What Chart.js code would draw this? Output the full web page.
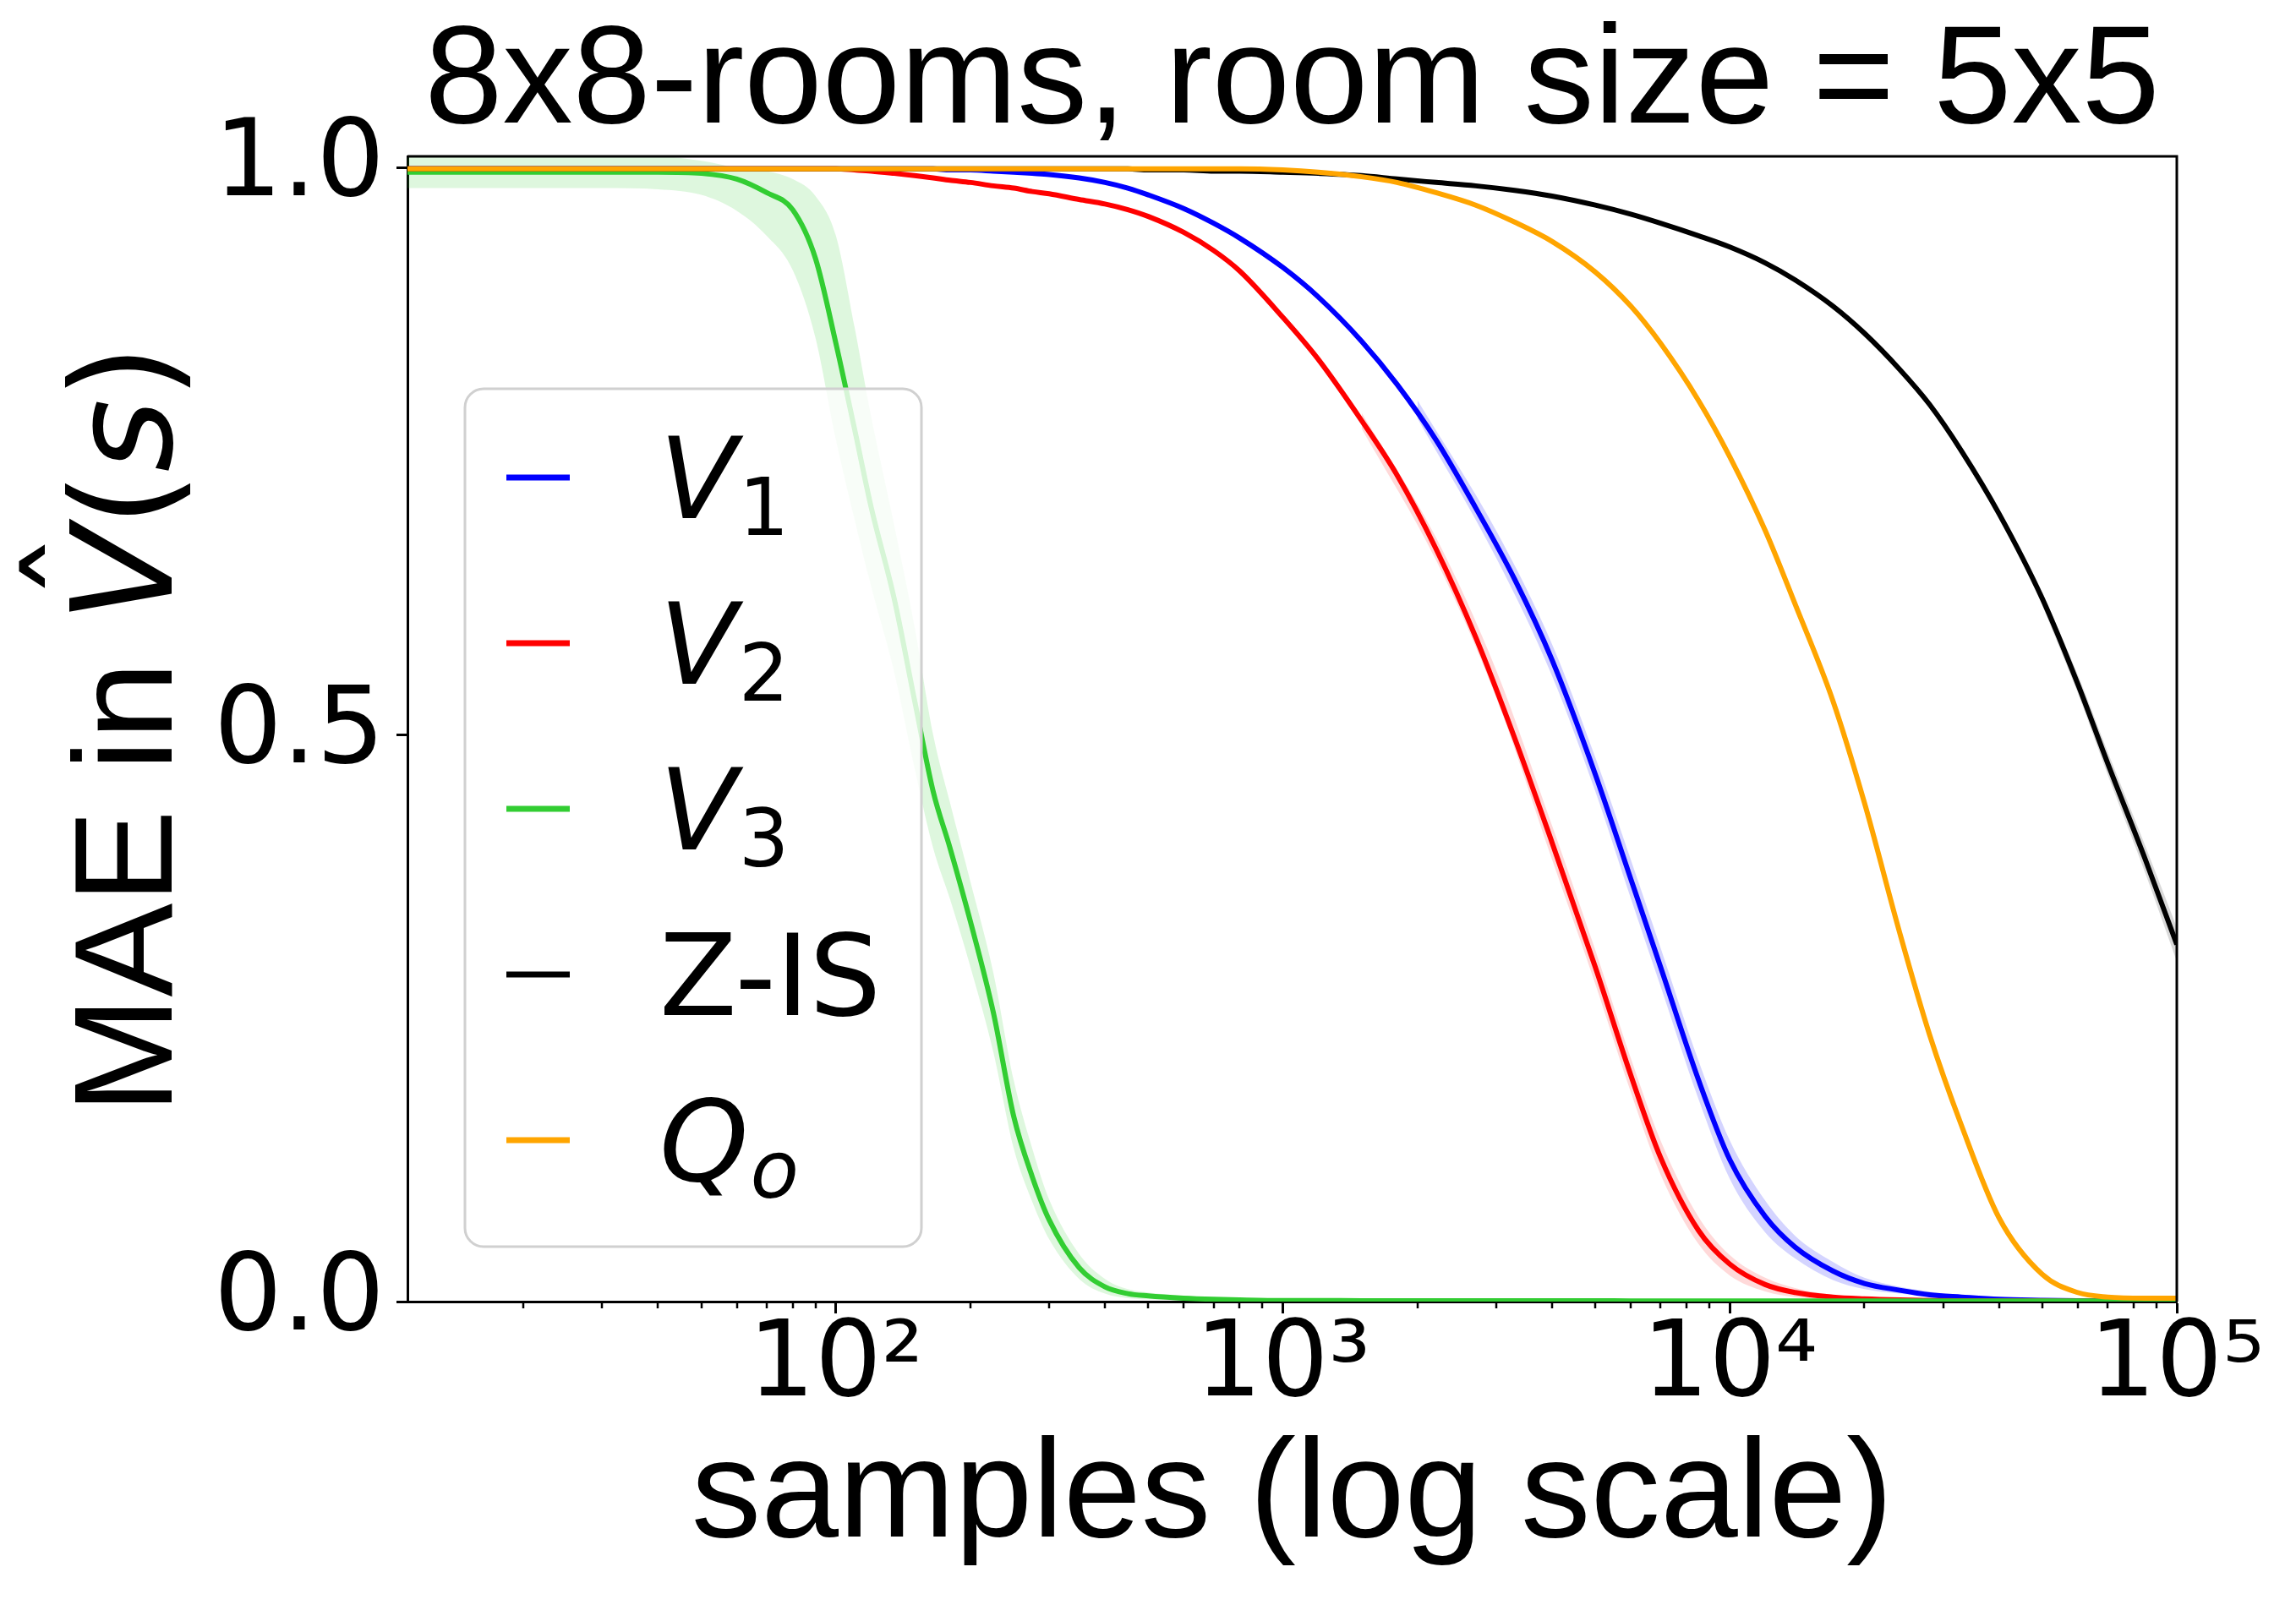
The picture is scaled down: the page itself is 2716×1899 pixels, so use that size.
<!DOCTYPE html>
<html>
<head>
<meta charset="utf-8">
<script src="https://cdn.jsdelivr.net/npm/chart.js@4.4.1/dist/chart.umd.min.js"></script>
<style>
  html, body { margin: 0; padding: 0; background: #fff; }
  #wrap { width: 2716px; height: 1899px; }
</style>
</head>
<body>
<div id="wrap"><canvas id="myChart"></canvas></div>
<script>
// sample counts (x) shared by all series
const samples = [11, 20, 30, 40, 50, 60, 70, 80, 90, 100,
  110, 120, 135, 150, 165, 180, 200, 225, 250, 275,
  300, 350, 400, 450, 500, 600, 700, 800, 1000, 1200,
  1500, 1800, 2200, 2700, 3300, 4000, 5000, 6000, 7000, 8500,
  10000, 12000, 14000, 17000, 20000, 24000, 28000, 33000, 40000, 50000,
  60000, 70000, 85000, 100000]

const v1 = [0.999, 0.999, 0.999, 0.999, 0.999, 0.999, 0.999, 0.999, 0.999, 0.999,
  0.999, 0.999, 0.999, 0.999, 0.999, 0.998, 0.998, 0.997, 0.996, 0.995,
  0.994, 0.991, 0.987, 0.982, 0.976, 0.964, 0.951, 0.938, 0.912, 0.886,
  0.847, 0.809, 0.760, 0.700, 0.637, 0.566, 0.465, 0.373, 0.295, 0.196,
  0.125, 0.075, 0.048, 0.027, 0.016, 0.010, 0.006, 0.004, 0.002, 0.0012,
  0.0008, 0.0006, 0.0005, 0.0004]

const v2 = [0.999, 0.999, 0.999, 0.999, 0.999, 0.999, 0.999, 0.999, 0.999, 0.999,
  0.998, 0.997, 0.995, 0.993, 0.991, 0.989, 0.987, 0.984, 0.982, 0.979,
  0.977, 0.972, 0.968, 0.963, 0.957, 0.943, 0.927, 0.909, 0.868, 0.831,
  0.777, 0.729, 0.664, 0.586, 0.497, 0.405, 0.295, 0.200, 0.127, 0.063,
  0.033, 0.015, 0.008, 0.004, 0.0025, 0.0015, 0.001, 0.0008, 0.0006, 0.0005,
  0.0004, 0.0004, 0.0003, 0.0003]

const v3 = [0.996, 0.996, 0.996, 0.996, 0.995, 0.990, 0.978, 0.963, 0.920, 0.845,
  0.770, 0.700, 0.620, 0.530, 0.450, 0.400, 0.335, 0.255, 0.163, 0.110,
  0.072, 0.030, 0.013, 0.007, 0.005, 0.003, 0.002, 0.0015, 0.001, 0.001,
  0.0008, 0.0008, 0.0008, 0.0008, 0.0008, 0.0008, 0.0008, 0.0006, 0.0006, 0.0006,
  0.0005, 0.0005, 0.0005, 0.0005, 0.0005, 0.0005, 0.0005, 0.0005, 0.0005, 0.0005,
  0.0005, 0.0005, 0.0005, 0.0005]

const zis = [0.999, 0.999, 0.999, 0.999, 0.999, 0.999, 0.999, 0.999, 0.999, 0.999,
  0.999, 0.999, 0.999, 0.999, 0.999, 0.999, 0.999, 0.999, 0.999, 0.999,
  0.999, 0.999, 0.999, 0.999, 0.998, 0.998, 0.997, 0.997, 0.996, 0.995,
  0.993, 0.990, 0.987, 0.984, 0.980, 0.975, 0.967, 0.959, 0.951, 0.940,
  0.930, 0.916, 0.901, 0.878, 0.854, 0.822, 0.791, 0.750, 0.695, 0.620,
  0.545, 0.475, 0.390, 0.315]

const qo = [0.999, 0.999, 0.999, 0.999, 0.999, 0.999, 0.999, 0.999, 0.999, 0.999,
  0.999, 0.999, 0.999, 0.999, 0.999, 0.999, 0.999, 0.999, 0.999, 0.999,
  0.999, 0.999, 0.999, 0.999, 0.999, 0.999, 0.999, 0.999, 0.998, 0.996,
  0.992, 0.987, 0.978, 0.967, 0.952, 0.935, 0.908, 0.878, 0.845, 0.795,
  0.745, 0.680, 0.615, 0.530, 0.440, 0.325, 0.235, 0.155, 0.074, 0.024,
  0.008, 0.004, 0.003, 0.003]

// shaded spread around V3
const v3Hi = [1.01, 1.01, 1.01, 1.01, 1.006, 1.0, 0.997, 0.99, 0.975, 0.94,
  0.86, 0.78, 0.685, 0.595, 0.50, 0.44, 0.37, 0.29, 0.195, 0.135,
  0.09, 0.042, 0.02, 0.011, 0.008, 0.005, 0.003, 0.0025, 0.002, 0.002,
  0.0015, 0.0015, 0.0015, 0.0015, 0.0015, 0.0015, 0.0015, 0.0015, 0.0015, 0.0015,
  0.0015, 0.0015, 0.0015, 0.0015, 0.0015, 0.0015, 0.0015, 0.0015, 0.0015, 0.0015,
  0.0015, 0.0015, 0.0015, 0.0015]
const v3Lo = [0.982, 0.982, 0.982, 0.981, 0.976, 0.962, 0.94, 0.91, 0.85, 0.76,
  0.69, 0.63, 0.555, 0.47, 0.40, 0.355, 0.295, 0.22, 0.135, 0.088,
  0.055, 0.02, 0.007, 0.003, 0.002, 0.001, 0.0008, 0.0005, 0.0003, 0.0003,
  0, 0, 0, 0, 0, 0, 0, 0, 0, 0,
  0, 0, 0, 0, 0, 0, 0, 0, 0, 0,
  0, 0, 0, 0]

// thinner spreads for V1, V2 and Z-IS
const v1BandX = [2000, 3000, 4000, 5000, 6000, 7000, 8500, 10000, 12000, 14000, 17000, 20000, 24000, 30000]
const v1Hi = [0.795, 0.68, 0.58, 0.48, 0.39, 0.312, 0.213, 0.142, 0.089, 0.058, 0.035, 0.021, 0.013, 0.007]
const v1Lo = [0.779, 0.656, 0.552, 0.45, 0.356, 0.278, 0.179, 0.108, 0.061, 0.038, 0.019, 0.011, 0.007, 0.003]

const v2BandX = [1500, 2200, 3000, 4000, 5000, 6000, 7000, 8500, 10000, 12000, 14000, 17000, 20000]
const v2Hi = [0.784, 0.674, 0.557, 0.42, 0.31, 0.215, 0.142, 0.075, 0.041, 0.021, 0.012, 0.006, 0.004]
const v2Lo = [0.770, 0.654, 0.533, 0.39, 0.28, 0.185, 0.112, 0.051, 0.023, 0.009, 0.004, 0.002, 0.001]

const zisBandX = [50000, 60000, 70000, 85000, 100000]
const zisHi = [0.626, 0.553, 0.485, 0.402, 0.33]
const zisLo = [0.614, 0.537, 0.465, 0.378, 0.30]

const majorTicks = [100, 1000, 10000, 100000]
const yTicks = [0, 0.5, 1.0]

const legendMain = ['V', 'V', 'V', 'Z-IS', 'Q']
const legendSub = ['1', '2', '3', '', 'o']
const legendItalic = [true, true, true, false, true]
const legendColors = ['#0000ff', '#ff0000', '#32cd32', '#000000', '#ffa500']

const minorTicks = []
for (let e = 1; e < 5; e++) {
  for (let m = 2; m < 10; m++) {
    const v = m * Math.pow(10, e)
    if (v > 11) minorTicks.push(v)
  }
}

const pts = (ys, xs) => ys.map((y, i) => ({x: (xs || samples)[i], y: y}))
const sup = {'0': '\u2070', '1': '\u00b9', '2': '\u00b2', '3': '\u00b3', '4': '\u2074', '5': '\u2075'}

const line = (label, ys, color) => ({
  label: label, data: pts(ys), borderColor: color, backgroundColor: color,
  borderWidth: 6, pointRadius: 0, fill: false, cubicInterpolationMode: 'monotone'
})
const band = (xs, ys, color, fill) => ({
  label: '', data: pts(ys, xs), borderWidth: 0, pointRadius: 0,
  backgroundColor: color, borderColor: 'rgba(0,0,0,0)', fill: fill, cubicInterpolationMode: 'monotone'
})

// extra drawing: legend box, spines, minor ticks, y label
const extras = {
  id: 'extras',
  afterDatasetsDraw(chart) {
    const ctx = chart.ctx
    const a = chart.chartArea
    ctx.save()
    const bx = a.left + 68, by = a.top + 275
    ctx.beginPath()
    ctx.roundRect(bx, by, 540, 1015, 22)
    ctx.fillStyle = 'rgba(255,255,255,0.8)'
    ctx.fill()
    ctx.lineWidth = 3
    ctx.strokeStyle = '#d0d0d0'
    ctx.stroke()
    for (let i = 0; i < legendMain.length; i++) {
      const y = by + 105 + i * 196
      ctx.beginPath()
      ctx.moveTo(bx + 49, y)
      ctx.lineTo(bx + 124, y)
      ctx.lineWidth = 7
      ctx.strokeStyle = legendColors[i]
      ctx.stroke()
      ctx.fillStyle = '#000'
      ctx.textAlign = 'left'
      ctx.textBaseline = 'alphabetic'
      ctx.font = (legendItalic[i] ? 'italic ' : '') + '134px "DejaVu Sans"'
      ctx.fillText(legendMain[i], bx + 230, y + 48)
      const w = ctx.measureText(legendMain[i]).width
      if (legendSub[i]) {
        ctx.font = (legendSub[i] === 'o' ? 'italic ' : '') + '94px "DejaVu Sans"'
        ctx.fillText(legendSub[i], bx + 230 + w + 2, y + 68)
      }
    }
    ctx.restore()
  },
  afterDraw(chart) {
    const ctx = chart.ctx
    const a = chart.chartArea
    const xs = chart.scales.x
    ctx.save()
    ctx.strokeStyle = '#000'
    ctx.lineWidth = 3
    ctx.beginPath()
    ctx.moveTo(a.left, a.top)
    ctx.lineTo(a.right, a.top)
    ctx.lineTo(a.right, a.bottom)
    ctx.stroke()
    ctx.lineWidth = 2.5
    minorTicks.forEach(v => {
      const px = Math.round(xs.getPixelForValue(v))
      ctx.beginPath()
      ctx.moveTo(px, a.bottom)
      ctx.lineTo(px, a.bottom + 8)
      ctx.stroke()
    })
    // y axis label with math part
    const parts = [
      {t: 'MAE in ', f: '166px "Liberation Sans"'},
      {t: 'V', f: 'italic 166px "DejaVu Sans"', hat: true},
      {t: '(', f: '166px "DejaVu Sans"'},
      {t: 's', f: 'italic 166px "DejaVu Sans"'},
      {t: ')', f: '166px "DejaVu Sans"'}
    ]
    let total = 0
    parts.forEach(p => { ctx.font = p.f; p.w = ctx.measureText(p.t).width; total += p.w })
    ctx.translate(203, (a.top + a.bottom) / 2)
    ctx.rotate(-Math.PI / 2)
    ctx.fillStyle = '#000'
    ctx.textBaseline = 'alphabetic'
    let x = -total / 2
    parts.forEach(p => {
      ctx.font = p.f
      ctx.textAlign = 'left'
      ctx.fillText(p.t, x, 0)
      if (p.hat) {
        ctx.font = '166px "DejaVu Sans"'
        ctx.textAlign = 'center'
        ctx.fillText('\u02c6', x + p.w / 2 + 10, -48)
      }
      x += p.w
    })
    ctx.restore()
  }
}

const ctx = document.getElementById('myChart')
const myChart = new Chart(ctx, {
  type: 'line',
  data: {
    datasets: [
      line('Q_o', qo, '#ffa500'),
      line('Z-IS', zis, '#000000'),
      line('V_3', v3, '#32cd32'),
      line('V_2', v2, '#ff0000'),
      line('V_1', v1, '#0000ff'),
      band(samples, v3Hi, 'rgba(50,205,50,0.16)', '+1'),
      band(samples, v3Lo, 'rgba(50,205,50,0.16)', false),
      band(v2BandX, v2Hi, 'rgba(255,0,0,0.15)', '+1'),
      band(v2BandX, v2Lo, 'rgba(255,0,0,0.15)', false),
      band(v1BandX, v1Hi, 'rgba(0,0,255,0.17)', '+1'),
      band(v1BandX, v1Lo, 'rgba(0,0,255,0.17)', false),
      band(zisBandX, zisHi, 'rgba(0,0,0,0.15)', '+1'),
      band(zisBandX, zisLo, 'rgba(0,0,0,0.15)', false)
    ]
  },
  options: {
    responsive: true,
    maintainAspectRatio: false,
    devicePixelRatio: 1,
    animation: false,
    layout: { padding: { left: 0, right: 141, top: 0, bottom: 0 } },
    plugins: {
      legend: { display: false },
      tooltip: { enabled: false },
      title: {
        display: true,
        fullSize: false,
        text: '8x8-rooms, room size = 5x5',
        color: '#000',
        font: { family: 'Liberation Sans', size: 166, weight: 'normal', lineHeight: 1 },
        padding: { top: 16.5, bottom: 2.5 }
      }
    },
    scales: {
      x: {
        type: 'logarithmic',
        min: 11,
        max: 100000,
        afterBuildTicks: s => { s.ticks = majorTicks.map(v => ({value: v, major: true})) },
        afterFit: s => { s.height = 359 },
        grid: { drawOnChartArea: false, tickLength: 14, tickWidth: 3, tickColor: '#000' },
        border: { display: true, color: '#000', width: 3 },
        ticks: {
          autoSkip: false, maxRotation: 0, color: '#000', padding: 3,
          font: { family: 'DejaVu Sans', size: 124, lineHeight: 1 },
          callback: v => '10' + String(Math.round(Math.log10(v))).split('').map(c => sup[c]).join('')
        },
        title: {
          display: true, text: 'samples (log scale)', color: '#000',
          font: { family: 'Liberation Sans', size: 165, lineHeight: 1 },
          padding: { top: 0, bottom: 44 }
        }
      },
      y: {
        min: 0,
        max: 1.01,
        afterBuildTicks: s => { s.ticks = yTicks.map(v => ({value: v})) },
        afterFit: s => { s.width = 482 },
        grid: { drawOnChartArea: false, tickLength: 13, tickWidth: 3, tickColor: '#000' },
        border: { display: true, color: '#000', width: 3 },
        ticks: {
          color: '#000', padding: 14,
          font: { family: 'DejaVu Sans', size: 127 },
          callback: v => v.toFixed(1)
        }
      }
    }
  },
  plugins: [extras]
})
</script>
</body>
</html>
